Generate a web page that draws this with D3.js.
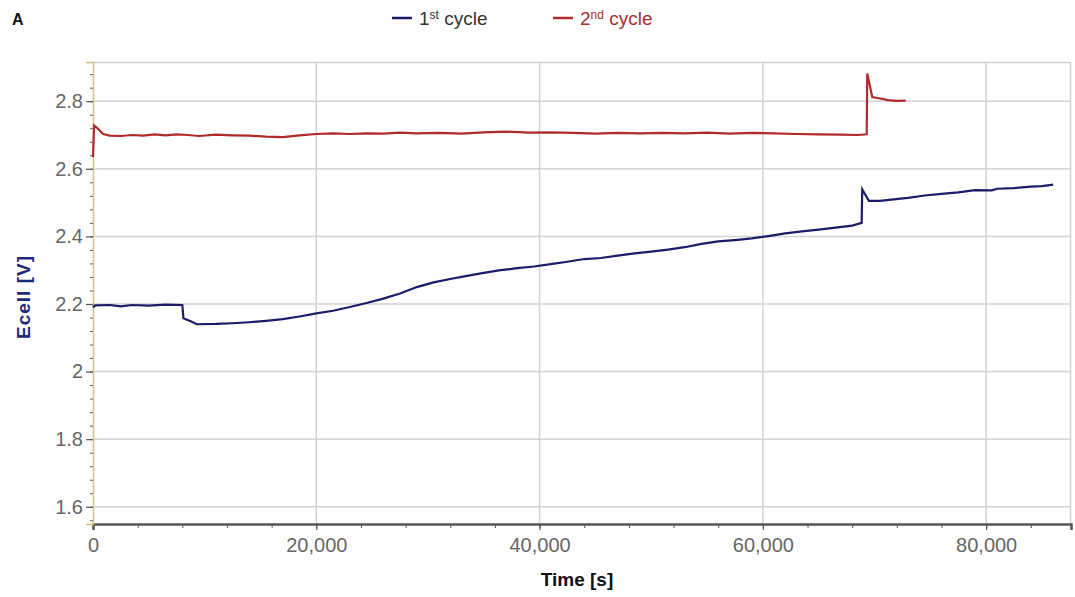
<!DOCTYPE html>
<html>
<head>
<meta charset="utf-8">
<script src="https://cdn.jsdelivr.net/npm/d3@7"></script>
<style>
  body { margin: 0; background: #fff; }
  svg { display: block; font-family: "Liberation Sans", Arial, sans-serif; }
</style>
</head>
<body>
<div id="visual"></div>
<script>

// 1st cycle, time [s] and Ecell [V]
var cycle1Time = [0, 200, 1500, 2500, 3500, 5000, 6500, 8000, 8100, 8800, 9300, 11000, 12500, 14000,
    15500, 17000, 18500, 20000, 21500, 23000, 24500, 26000, 27500, 29000, 30500, 32000, 33500, 35000,
    36500, 38000, 39500, 41000, 42500, 44000, 45500, 47000, 48500, 50000, 51500, 53000, 54500, 56000,
    57500, 59000, 60500, 62000, 63500, 65000, 66500, 68000, 68850, 68900, 69500, 70500, 71500, 73000,
    74500, 76000, 77500, 79000, 80500, 81000, 82500, 84000, 85000, 86000];
var cycle1Volt = [2.190, 2.196, 2.197, 2.193, 2.197, 2.195, 2.198, 2.197, 2.158, 2.148, 2.140, 2.141, 2.143, 2.146,
    2.150, 2.155, 2.163, 2.172, 2.180, 2.191, 2.203, 2.216, 2.231, 2.250, 2.264, 2.274, 2.283, 2.292,
    2.300, 2.306, 2.311, 2.318, 2.325, 2.333, 2.336, 2.343, 2.350, 2.355, 2.361, 2.368, 2.378, 2.385,
    2.389, 2.394, 2.401, 2.409, 2.415, 2.420, 2.426, 2.432, 2.440, 2.539, 2.505, 2.505, 2.509, 2.514,
    2.521, 2.526, 2.530, 2.537, 2.536, 2.541, 2.543, 2.547, 2.549, 2.553];

// 2nd cycle
var cycle2Time = [0, 100, 400, 900, 1500, 2500, 3500, 4500, 5500, 6500, 7500, 8500, 9500, 11000, 12500,
    14000, 15500, 17000, 18500, 20000, 21500, 23000, 24500, 26000, 27500, 29000, 31000, 33000, 35000,
    37000, 39000, 41000, 43000, 45000, 47000, 49000, 51000, 53000, 55000, 57000, 59000, 61000, 63000,
    65000, 67000, 68500, 69300, 69350, 69800, 70500, 71200, 72000, 72800];
var cycle2Volt = [2.634, 2.728, 2.720, 2.703, 2.698, 2.697, 2.700, 2.698, 2.702, 2.699, 2.702, 2.700, 2.697, 2.701, 2.699,
    2.698, 2.695, 2.694, 2.699, 2.703, 2.705, 2.703, 2.705, 2.704, 2.707, 2.705, 2.706, 2.704, 2.708,
    2.710, 2.707, 2.708, 2.706, 2.704, 2.706, 2.705, 2.706, 2.705, 2.707, 2.704, 2.706, 2.705, 2.703,
    2.702, 2.701, 2.700, 2.702, 2.882, 2.812, 2.808, 2.803, 2.801, 2.802];

var xTicks = [0, 20000, 40000, 60000, 80000];
var yTicks = [1.6, 1.8, 2.0, 2.2, 2.4, 2.6, 2.8];
var seriesNames = ["1st cycle", "2nd cycle"];

var w = 1075, h = 597;
var margin = {top: 62, right: 4, bottom: 73, left: 93},
    width = w - margin.left - margin.right,
    height = h - margin.top - margin.bottom;

var blue = "#1b1b68", red = "#b02a2a";

var svg = d3.select("#visual").append("svg")
    .attr("width", w)
    .attr("height", h);

var g = svg.append("g")
    .attr("transform", "translate(" + margin.left + "," + margin.top + ")");

var x = d3.scaleLinear().domain([0, 87600]).range([0, width]);
var y = d3.scaleLinear().domain([1.549, 2.916]).range([height, 0]);

// grid
g.selectAll("line.hgrid").data(yTicks).enter().append("line")
    .attr("class", "hgrid")
    .attr("x1", 0).attr("x2", width)
    .attr("y1", function (d) { return y(d); })
    .attr("y2", function (d) { return y(d); })
    .attr("stroke", "#d3d3d3").attr("stroke-width", 1.5);

g.selectAll("line.vgrid").data(xTicks.slice(1)).enter().append("line")
    .attr("class", "vgrid")
    .attr("x1", function (d) { return x(d); })
    .attr("x2", function (d) { return x(d); })
    .attr("y1", 0).attr("y2", height)
    .attr("stroke", "#d3d3d3").attr("stroke-width", 1.5);

// plot border top/right
g.append("path")
    .attr("d", "M0,0.5H" + (width - 0.5) + "V" + height)
    .attr("fill", "none").attr("stroke", "#d0d0d0").attr("stroke-width", 1.5);

// x axis
var xAxisMinor = d3.axisBottom(x).tickValues(d3.range(0, 87601, 4000)).tickSize(4).tickFormat("");
var xAxis = d3.axisBottom(x).tickValues(xTicks).tickSize(6).tickPadding(8)
    .tickFormat(d3.format(","));

var gxm = g.append("g").attr("transform", "translate(0," + height + ")").call(xAxisMinor);
gxm.select(".domain").remove();
gxm.selectAll("line").attr("stroke", "#555");

var gx = g.append("g").attr("transform", "translate(0," + height + ")").call(xAxis);
gx.select(".domain").attr("stroke", "#555").attr("stroke-width", 2.5);
gx.selectAll("line").attr("stroke", "#555").attr("stroke-width", 1.2);
gx.selectAll("text").attr("fill", "#666").style("font-size", "20px");

// y axis
var yAxisMinor = d3.axisLeft(y).tickValues(d3.range(1.56, 2.9, 0.04)).tickSize(3).tickFormat("");
var yAxis = d3.axisLeft(y).tickValues(yTicks).tickSize(7).tickPadding(3)
    .tickFormat(function (d) { return d3.format("")(+d.toFixed(1)); });

var gym = g.append("g").call(yAxisMinor);
gym.select(".domain").remove();
gym.selectAll("line").attr("stroke", "#555");

var gy = g.append("g").call(yAxis);
gy.select(".domain").attr("stroke", "#d8bf8c").attr("stroke-width", 1.5);
gy.selectAll("line").attr("stroke", "#555").attr("stroke-width", 1.2);
gy.selectAll("text").attr("fill", "#666").style("font-size", "20px");

// lines
var line = d3.line()
    .x(function (d) { return x(d[0]); })
    .y(function (d) { return y(d[1]); });

var data1 = d3.zip(cycle1Time, cycle1Volt);
var data2 = d3.zip(cycle2Time, cycle2Volt);

g.append("path").datum(data1)
    .attr("d", line)
    .attr("fill", "none").attr("stroke", blue).attr("stroke-width", 2.2);

g.append("path").datum(data2)
    .attr("d", line)
    .attr("fill", "none").attr("stroke", red).attr("stroke-width", 2.2);

// axis titles
svg.append("text")
    .attr("x", margin.left + width / 2 - 5)
    .attr("y", 586)
    .attr("text-anchor", "middle")
    .style("font-size", "19px").style("font-weight", "bold")
    .attr("fill", "#111")
    .text("Time [s]");

svg.append("text")
    .attr("transform", "translate(30,297) rotate(-90)")
    .attr("text-anchor", "middle")
    .style("font-size", "19px").style("font-weight", "bold")
    .style("letter-spacing", "1px")
    .attr("fill", "#1e2a78")
    .text("Ecell [V]");

// panel letter
svg.append("text")
    .attr("x", 12).attr("y", 25)
    .style("font-size", "16px").style("font-weight", "bold")
    .attr("fill", "#111")
    .text("A");

// legend
var legend = [
    {name: seriesNames[0], sup: "st", x: 392, color: blue, text: "#333"},
    {name: seriesNames[1], sup: "nd", x: 553, color: red, text: "#a83030"}
];

legend.forEach(function (d) {
    svg.append("line")
        .attr("x1", d.x).attr("x2", d.x + 20)
        .attr("y1", 18).attr("y2", 18)
        .attr("stroke", d.color).attr("stroke-width", 2.5);
    var t = svg.append("text")
        .attr("x", d.x + 27).attr("y", 25)
        .style("font-size", "19px")
        .attr("fill", d.text);
    t.append("tspan").text(d.name.charAt(0));
    t.append("tspan").attr("dy", -6).style("font-size", "12px").text(d.sup);
    t.append("tspan").attr("dy", 6).text(" " + d.name.split(" ")[1]);
});

</script>
</body>
</html>
